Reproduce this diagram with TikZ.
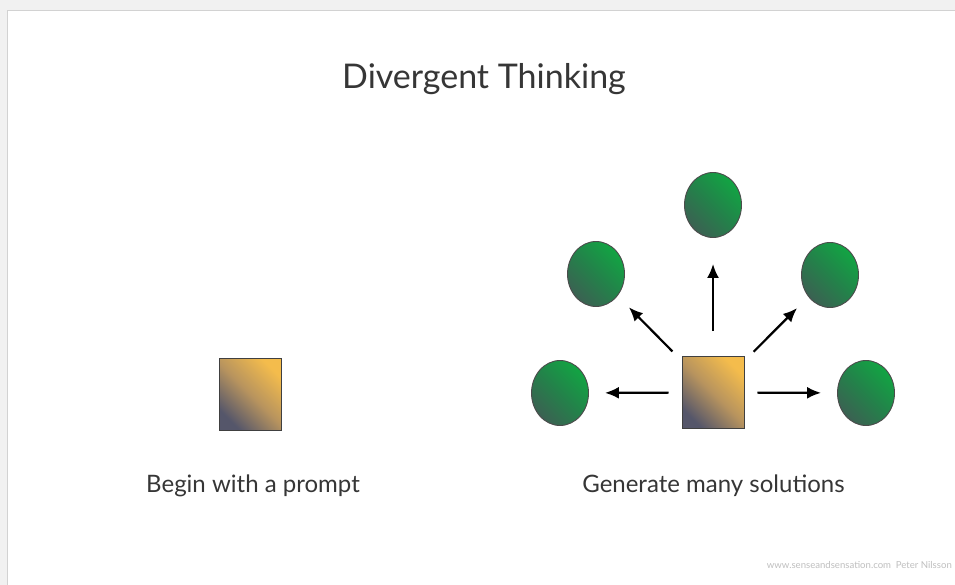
\documentclass[tikz,border=0pt]{standalone}
\usepackage{fontspec}
\setmainfont{Lato}
\usetikzlibrary{shapes.geometric,arrows.meta}
\definecolor{frameband}{HTML}{F1F1F1}
\definecolor{frameline}{HTML}{D2D2D2}
\definecolor{goldtop}{HTML}{F4BC4C}
\definecolor{goldmid}{HTML}{B8945E}
\definecolor{goldbot}{HTML}{55566A}
\definecolor{greentop}{HTML}{12A443}
\definecolor{greenmid}{HTML}{23824A}
\definecolor{greenbot}{HTML}{3B6152}
\definecolor{textgray}{HTML}{363636}
\begin{document}
\begin{tikzpicture}[x=1pt,y=-1pt,
  prompt/.style={rectangle, draw=black!75, line width=.9pt, minimum width=62pt, minimum height=72pt,
    top color=goldtop, bottom color=goldbot, middle color=goldmid, shading angle=-45},
  idea/.style={ellipse, draw=black!70, line width=.9pt, minimum width=57pt, minimum height=65pt,
    top color=greentop, bottom color=greenbot, middle color=greenmid, shading angle=-45},
  arrow/.style={-{Latex[length=14pt,width=12pt]}, line width=2.2pt, shorten <=13pt, shorten >=16pt}]
\useasboundingbox (0,0) rectangle (955,585);
\fill[white] (0,0) rectangle (955,585);
\fill[frameband] (0,0) rectangle (955,10);
\fill[frameband] (0,0) rectangle (7,585);
\draw[frameline, line width=1pt] (7.5,585) |- (955,10.5);
% title
\node[anchor=base, text=textgray, font=\fontsize{34}{40}\selectfont] (title) at (484,89) {Divergent Thinking};
% left: the prompt
\node[prompt] (sq0) at (250.5,394){};
\node[anchor=base, text=textgray, font=\fontsize{24}{30}\selectfont] (lab0) at (253,492) {Begin with a prompt};
% right: prompt and solutions
\node[prompt] (sq1) at (713,392.5){};
\node[idea] (sol0) at (560,393){};
\node[idea] (sol1) at (596,274){};
\node[idea] (sol2) at (713,205){};
\node[idea] (sol3) at (830,275){};
\node[idea] (sol4) at (866,393){};
\draw[arrow](sq1) -- (sol0);
\draw[arrow](sq1) -- (sol1);
\draw[arrow, shorten <=25pt, shorten >=26pt](sq1) -- (sol2);
\draw[arrow](sq1) -- (sol3);
\draw[arrow](sq1) -- (sol4);
\node[anchor=base, text=textgray, font=\fontsize{24}{30}\selectfont] (lab1) at (713.5,492) {Generate many solutions};
% footer
\node[anchor=base east, text=black!25, font=\fontsize{9.6}{12}\selectfont, inner sep=0pt] (foot) at (952,568) {www.senseandsensation.com\enspace Peter Nilsson};
\end{tikzpicture}
\end{document}
